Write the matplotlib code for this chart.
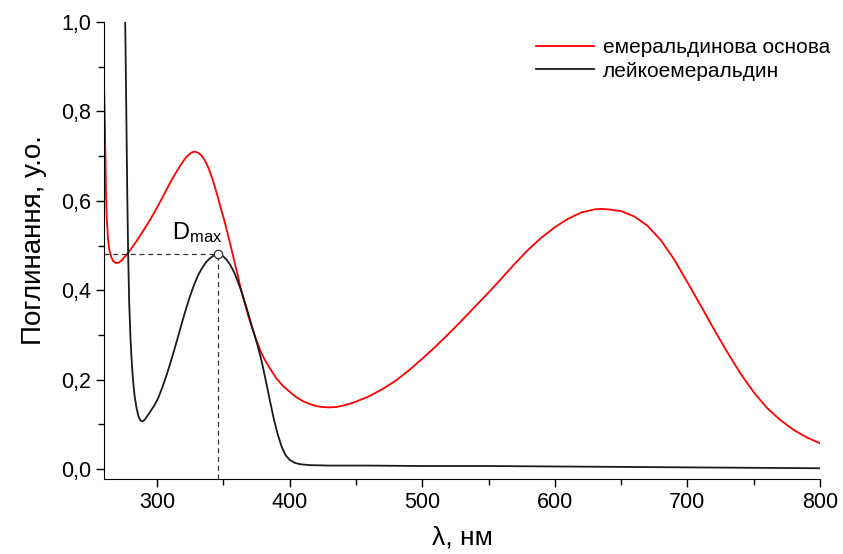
import numpy as np
import matplotlib.pyplot as plt
from matplotlib.ticker import MultipleLocator, FuncFormatter

plt.rcParams['font.family'] = ['Liberation Sans', 'DejaVu Sans']
plt.rcParams['mathtext.default'] = 'regular'

# емеральдинова основа (red)
wl_eb = [260, 260.5, 261, 261.5, 262, 263, 264, 265.5, 267, 269, 271, 273, 276, 280,
         285, 290, 295, 300, 305, 310, 315, 320, 323, 326, 328, 330, 333, 336, 339,
         342, 345, 348, 351, 354, 357, 360, 363, 366, 369, 372, 375, 378, 381, 385,
         390, 395, 400, 405, 410, 415, 420, 425, 430, 435, 440, 445, 450, 460, 470,
         480, 490, 500, 510, 520, 530, 540, 550, 560, 570, 580, 590, 600, 610, 620,
         630, 635, 640, 650, 660, 670, 680, 690, 700, 710, 720, 730, 740, 750, 760,
         770, 780, 790, 800]
a_eb = [0.86, 0.80, 0.71, 0.62, 0.565, 0.515, 0.490, 0.474, 0.465, 0.461, 0.462, 0.466,
        0.476, 0.491, 0.512, 0.535, 0.559, 0.585, 0.613, 0.641, 0.667, 0.690, 0.701,
        0.708, 0.710, 0.709, 0.703, 0.691, 0.672, 0.647, 0.617, 0.585, 0.553, 0.518,
        0.481, 0.444, 0.406, 0.372, 0.341, 0.313, 0.288, 0.264, 0.246, 0.226, 0.203,
        0.186, 0.173, 0.161, 0.152, 0.146, 0.141, 0.139, 0.138, 0.139, 0.142, 0.146,
        0.151, 0.163, 0.179, 0.198, 0.221, 0.247, 0.274, 0.303, 0.333, 0.364, 0.395,
        0.427, 0.460, 0.491, 0.518, 0.541, 0.560, 0.574, 0.581, 0.582, 0.581, 0.577,
        0.565, 0.544, 0.512, 0.469, 0.418, 0.366, 0.313, 0.262, 0.214, 0.172, 0.137,
        0.110, 0.088, 0.071, 0.058]

# лейкоемеральдин (black)
wl_le = [275.7, 276.2, 276.8, 277.5, 278.2, 279, 280, 281, 282, 283, 284.5, 286, 287.5,
         289, 290.5, 292, 295, 298, 301, 304, 307, 310, 313, 316, 319, 322, 325, 328,
         331, 334, 337, 340, 343, 346, 349, 352, 355, 358, 361, 364, 367, 370, 373, 376,
         379, 382, 385, 388, 391, 394, 397, 400, 404, 408, 415, 430, 460, 500, 550, 600,
         650, 700, 750, 800]
a_le = [1.05, 0.95, 0.80, 0.62, 0.48, 0.37, 0.29, 0.235, 0.195, 0.165, 0.137, 0.118,
        0.109, 0.107, 0.110, 0.116, 0.129, 0.143, 0.160, 0.183, 0.209, 0.237, 0.267,
        0.298, 0.330, 0.360, 0.388, 0.413, 0.434, 0.450, 0.463, 0.472, 0.478, 0.481,
        0.478, 0.470, 0.458, 0.441, 0.419, 0.394, 0.366, 0.335, 0.305, 0.275, 0.240,
        0.198, 0.155, 0.113, 0.078, 0.050, 0.031, 0.021, 0.014, 0.011, 0.009, 0.008,
        0.008, 0.007, 0.007, 0.006, 0.005, 0.004, 0.003, 0.002]

d_max_wl = 346
d_max = 0.481

fig = plt.figure(figsize=(8.43, 5.54), dpi=100)
ax = fig.add_axes([0.1234, 0.1354, 0.8493, 0.8249])

ax.plot(wl_eb, a_eb, color='#ff0000', lw=1.3, label='емеральдинова основа')
ax.plot(wl_le, a_le, color='#1a1a1a', lw=1.3, label='лейкоемеральдин')

# D_max guide lines
ax.plot([260, d_max_wl], [d_max, d_max], ls=(0, (4, 3)), color='#333333', lw=0.9)
ax.plot([d_max_wl, d_max_wl], [-0.022, d_max], ls=(0, (4, 3)), color='#333333', lw=0.9)
ax.plot(d_max_wl, d_max, 'o', ms=6, mfc='white', mec='#333333', mew=0.9, zorder=5)
ax.text(d_max_wl + 3, d_max + 0.02, '$D_{max}$', fontsize=17, ha='right', va='bottom')

ax.set_xlim(260, 800)
ax.set_ylim(-0.022, 1.0)
ax.xaxis.set_major_locator(MultipleLocator(100))
ax.xaxis.set_minor_locator(MultipleLocator(50))
ax.yaxis.set_major_locator(MultipleLocator(0.2))
ax.yaxis.set_minor_locator(MultipleLocator(0.1))
ax.yaxis.set_major_formatter(FuncFormatter(lambda v, p: f"{v:.1f}".replace('.', ',')))

for s in ['top', 'right']:
    ax.spines[s].set_visible(False)
ax.tick_params(which='major', direction='out', length=6, width=1, labelsize=15.5)
ax.tick_params(which='minor', direction='out', length=4, width=1)

ax.set_xlabel('λ, нм', fontsize=19, labelpad=9)
ax.set_ylabel('Поглинання, у.о.', fontsize=20)
ax.yaxis.set_label_coords(-0.080, 0.523)

ax.legend(loc='upper right', frameon=False, fontsize=15, handlelength=2.8,
          handletextpad=0.4, labelspacing=0.2, bbox_to_anchor=(1.04, 1.005))

fig.savefig('out.png', dpi=100)
